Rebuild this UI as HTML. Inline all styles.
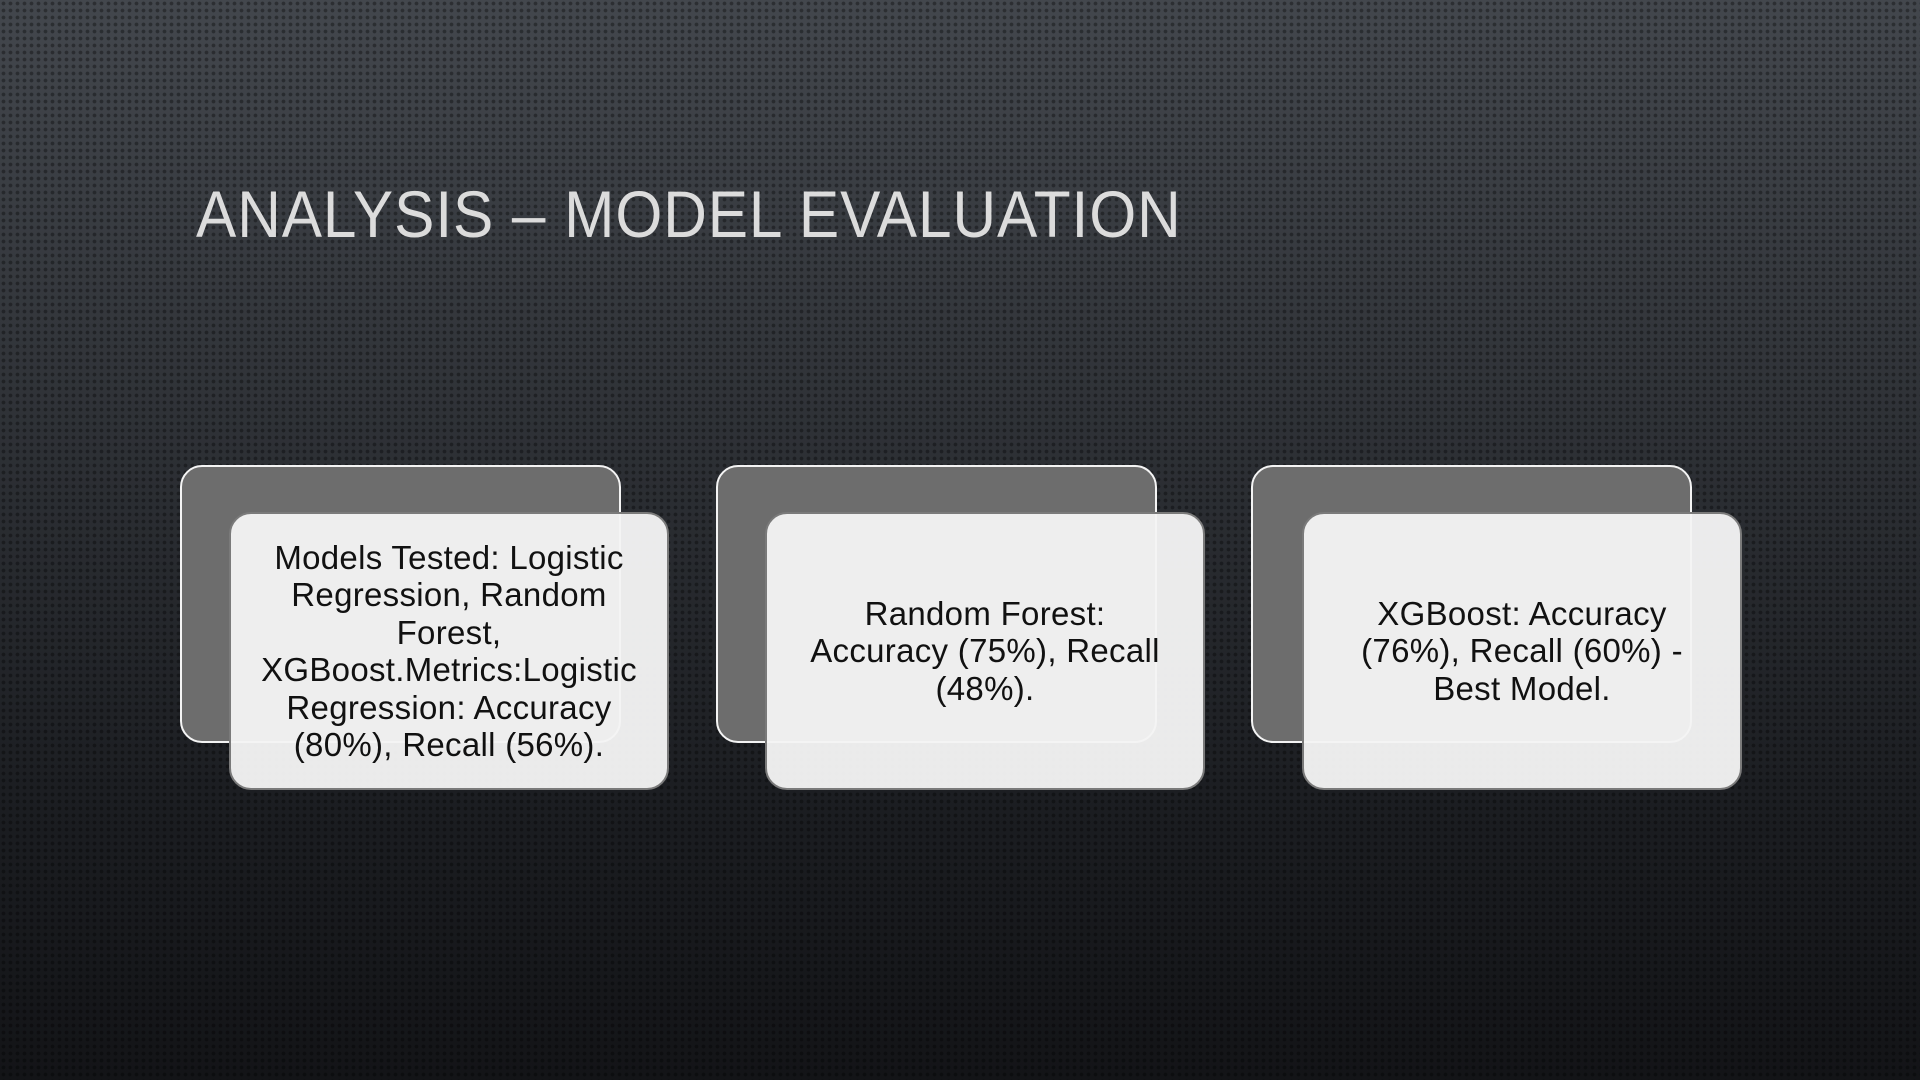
<!DOCTYPE html>
<html><head><meta charset="utf-8"><style>
html,body{margin:0;padding:0}
body{width:1920px;height:1080px;overflow:hidden;position:relative;
background:linear-gradient(180deg,#43474d 0%,#2e3136 40%,#1b1d21 75%,#131417 100%);
font-family:"Liberation Sans",sans-serif}
.dots{position:absolute;inset:0;background-image:radial-gradient(circle,rgba(0,0,0,0.35) 1.6px,transparent 2.2px);background-size:7px 7px;}
.title{position:absolute;left:196px;top:176px;font-size:66px;color:#dcdcdc;white-space:nowrap;transform:scaleX(0.915);transform-origin:left top;font-weight:normal;letter-spacing:1px}
.back{position:absolute;width:441px;height:278px;background:#6d6d6d;border:2px solid #f4f4f4;border-radius:22px;box-sizing:border-box}
.front{position:absolute;width:440px;height:278px;background:rgba(244,244,244,0.96);border:2px solid #7a7a7a;border-radius:22px;box-sizing:border-box;display:flex;align-items:center;justify-content:center;text-align:center;font-size:33px;line-height:37.5px;color:#111;white-space:nowrap;letter-spacing:0.3px}
</style></head><body>
<div class="dots"></div>
<div class="title">ANALYSIS – MODEL EVALUATION</div>

<div class="back" style="left:180px;top:465px"></div>
<div class="front" style="left:229px;top:512px"><div>Models Tested: Logistic<br>Regression, Random<br>Forest,<br>XGBoost.Metrics:Logistic<br>Regression: Accuracy<br>(80%), Recall (56%).</div></div>

<div class="back" style="left:716px;top:465px"></div>
<div class="front" style="left:765px;top:512px"><div>Random Forest:<br>Accuracy (75%), Recall<br>(48%).</div></div>

<div class="back" style="left:1251px;top:465px"></div>
<div class="front" style="left:1302px;top:512px"><div>XGBoost: Accuracy<br>(76%), Recall (60%) -<br>Best Model.</div></div>
</body></html>
